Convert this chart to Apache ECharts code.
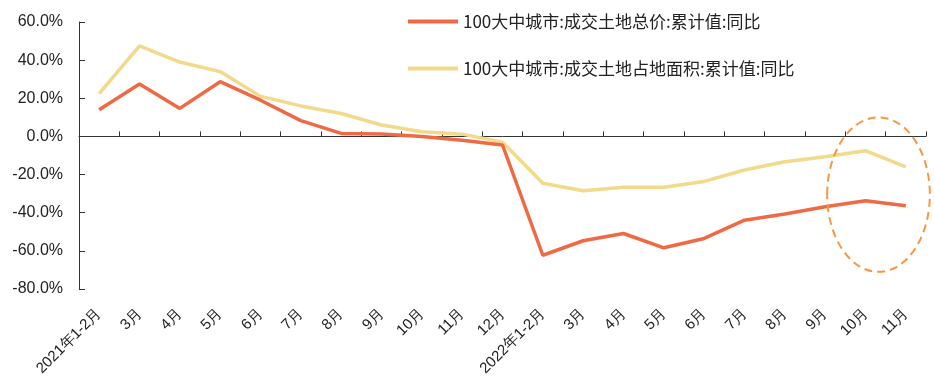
<!DOCTYPE html>
<html>
<head>
<meta charset="utf-8">
<script src="https://cdn.jsdelivr.net/npm/echarts@6/dist/echarts.min.js"></script>
<style>
  html, body { margin: 0; padding: 0; background: #fff; }
  #chart { width: 934px; height: 385px; }
</style>
</head>
<body>
<div id="chart"></div>
<script>
// Month labels, Jan 2021 – Nov 2022 (Jan and Feb combined)
const months = [
  '2021年1-2月', '3月', '4月', '5月', '6月', '7月', '8月', '9月', '10月', '11月', '12月',
  '2022年1-2月', '3月', '4月', '5月', '6月', '7月', '8月', '9月', '10月', '11月'
];

// Cumulative YoY change, top-100 cities land transactions (%)
const totalPriceYoY = [
  14.0, 27.5, 14.7, 28.7, 19.0, 8.3, 1.6, 1.3, 0.0, -2.0, -4.5,
  -62.3, -54.7, -50.9, -58.4, -53.5, -43.9, -40.7, -36.9, -33.7, -36.4
];
const landAreaYoY = [
  22.5, 47.5, 39.0, 34.0, 21.0, 16.0, 12.0, 6.0, 2.5, 1.2, -3.0,
  -24.6, -28.5, -26.7, -26.7, -23.6, -17.6, -13.3, -10.6, -7.5, -15.9
];

const seriesNames = [
  '100大中城市:成交土地总价:累计值:同比',
  '100大中城市:成交土地占地面积:累计值:同比'
];

const yTicks = { min: -80, max: 60, step: 20 };

const labelFont = { fontFamily: 'Liberation Sans, Arial, sans-serif', color: '#222' };

const chart = echarts.init(document.getElementById('chart'), null, { renderer: 'canvas' });

chart.setOption({
  animation: false,
  backgroundColor: '#fff',
  grid: { left: 79, right: 8, top: 22, bottom: 96 },
  legend: {
    orient: 'vertical',
    left: 403,
    top: 8,
    itemGap: 30,
    itemWidth: 50,
    itemHeight: 4,
    icon: 'rect',
    textStyle: {
      fontFamily: 'Noto Sans CJK SC, sans-serif',
      fontSize: 17,
      color: '#222'
    },
    data: seriesNames
  },
  xAxis: [
    {
      type: 'category',
      data: months,
      boundaryGap: true,
      axisLine: { onZero: true, lineStyle: { color: '#333', width: 1 } },
      axisTick: { show: true, inside: true, interval: 0, length: 5, lineStyle: { color: '#333' } },
      axisLabel: { show: false },
      splitLine: { show: false }
    },
    {
      type: 'category',
      data: months,
      position: 'bottom',
      boundaryGap: true,
      axisLine: { show: false },
      axisTick: { show: false },
      axisLabel: Object.assign({ rotate: 45, interval: 0, margin: 22, fontSize: 15 }, labelFont),
      splitLine: { show: false }
    }
  ],
  yAxis: {
    type: 'value',
    min: yTicks.min,
    max: yTicks.max,
    interval: yTicks.step,
    axisLine: { show: true, lineStyle: { color: '#333', width: 1 } },
    axisTick: { show: true, inside: true, length: 6, lineStyle: { color: '#333' } },
    axisLabel: Object.assign({
      margin: 16,
      fontSize: 16,
      formatter: v => v.toFixed(1) + '%'
    }, labelFont),
    splitLine: { show: false }
  },
  series: [
    {
      name: seriesNames[0],
      type: 'line',
      xAxisIndex: 0,
      data: totalPriceYoY,
      symbol: 'none',
      z: 3,
      lineStyle: { color: '#EE6A45', width: 3.5 },
      itemStyle: { color: '#EE6A45' }
    },
    {
      name: seriesNames[1],
      type: 'line',
      xAxisIndex: 0,
      data: landAreaYoY,
      symbol: 'none',
      z: 2,
      lineStyle: { color: '#F2D98B', width: 3.5 },
      itemStyle: { color: '#F2D98B' }
    }
  ]
});

// Dashed ellipse highlighting the latest months (Sep–Nov 2022)
const ptLeft = chart.convertToPixel({ xAxisIndex: 0, yAxisIndex: 0 }, [18, 0]);
const ptRight = chart.convertToPixel({ xAxisIndex: 0, yAxisIndex: 0 }, [20, 0]);
const yTop = chart.convertToPixel({ yAxisIndex: 0 }, 10);
const yBottom = chart.convertToPixel({ yAxisIndex: 0 }, -71);
const ellCx = (ptLeft[0] + ptRight[0]) / 2 + 13;
const ellRx = (ptRight[0] - ptLeft[0]) / 2 + 11;
const ellCy = (yTop + yBottom) / 2;
const ellRy = (yBottom - yTop) / 2;

chart.setOption({
  graphic: [{
    type: 'ellipse',
    shape: { cx: ellCx, cy: ellCy, rx: ellRx, ry: ellRy },
    style: { fill: 'none', stroke: '#F79646', lineWidth: 2, lineDash: [8, 5] },
    z: 10
  }]
});
</script>
</body>
</html>
